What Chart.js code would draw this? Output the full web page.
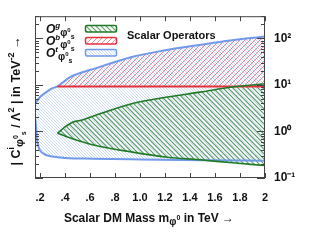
<!DOCTYPE html>
<html>
<head>
<meta charset="utf-8">
<script src="https://cdn.jsdelivr.net/npm/chart.js@4.4.0/dist/chart.umd.min.js"></script>
<style>
html,body{margin:0;padding:0;background:#fff}
canvas{display:block}
</style>
</head>
<body>
<canvas id="myChart" width="327" height="245"></canvas>
<script>
const xTicks = [0.2,0.4,0.6,0.8,1.0,1.2,1.4,1.6,1.8,2.0];
const xTickLabels = ['.2','.4','.6','.8','1.0','1.2','1.4','1.6','1.8','2'];
const yTicks = [0.1,1,10,100];
const yTickLabels = ['10\u207B\u00B9','10\u2070','10\u00B9','10\u00B2'];

// O^t (top) : blue band
const topUpMass = [0.16,0.20,0.25,0.30,0.34,0.44,0.65,0.92,1.19,1.46,1.72,2.0];
const topUpper  = [3.9,5.5,7.0,8.5,9.3,14.7,23,39,55,71,90,110];
const topLowMass = [0.16,0.168,0.176,0.19,0.20,0.24,0.30,0.40,0.62,1.0,1.5,2.0];
const topLower   = [2.1,1.3,0.66,0.45,0.39,0.32,0.29,0.27,0.26,0.25,0.24,0.235];

// O^b (bottom) : red band, flat lower edge
const botMass  = [0.34,2.0];
const botLower = [9.3,9.3];

// O^g (gluon) : green band
const gluUpMass = [0.34,0.40,0.46,0.52,0.68,0.94,1.22,1.48,1.74,2.0];
const gluUpper  = [0.92,1.25,1.58,1.72,2.4,4.0,5.5,7.0,9.0,10.6];
const gluLowMass = [0.34,0.46,0.62,0.94,1.22,1.48,1.74,2.0];
const gluLower   = [0.92,0.70,0.52,0.36,0.28,0.246,0.212,0.186];

const pts = (xs, ys) => xs.map((x,i) => ({x:x, y:ys[i]}));

const canvas = document.getElementById('myChart');
const ctx = canvas.getContext('2d');

function hatch(color, size, lw, dir){
    const c = document.createElement('canvas');
    c.width = size; c.height = size;
    const g = c.getContext('2d');
    g.strokeStyle = color; g.lineWidth = lw;
    g.beginPath();
    if(dir > 0){
        g.moveTo(0,size); g.lineTo(size,0);
        g.moveTo(-size/2,size/2); g.lineTo(size/2,-size/2);
        g.moveTo(size/2,size*1.5); g.lineTo(size*1.5,size/2);
    } else {
        g.moveTo(0,0); g.lineTo(size,size);
        g.moveTo(-size/2,size/2); g.lineTo(size/2,size*1.5);
        g.moveTo(size/2,-size/2); g.lineTo(size*1.5,size/2);
    }
    g.stroke();
    return ctx.createPattern(c,'repeat');
}

const blueCol = '#7099e8';
const redCol = '#e3303c';
const greenCol = '#1f7a26';
const blueFill = hatch('rgba(130,168,232,0.42)',3,1,-1);
const redFill = hatch('rgba(225,90,110,0.7)',5,1,1);
const greenFill = hatch('rgba(45,130,55,0.75)',5,1.2,-1);

const FONT = 'Liberation Sans, Arial, sans-serif';

function rich(c, parts, x, y, align){
    let w = 0;
    parts.forEach(p => { c.font = p[1]; w += c.measureText(p[0]).width; });
    let cx = align === 'center' ? x - w/2 : x;
    parts.forEach(p => {
        c.font = p[1];
        c.fillText(p[0], cx, y + p[2]);
        cx += c.measureText(p[0]).width;
    });
}

const decor = {
    id:'decor',
    afterDatasetsDraw(chart){
        const c = chart.ctx, a = chart.chartArea;
        const x = chart.scales.x, y = chart.scales.y;
        c.save();
        c.strokeStyle = '#444';
        c.lineWidth = 1;
        c.beginPath();
        xTicks.forEach(v => {
            const px = Math.round(x.getPixelForValue(v)) + 0.5;
            c.moveTo(px,a.bottom); c.lineTo(px,a.bottom-5);
            c.moveTo(px,a.top); c.lineTo(px,a.top+5);
        });
        for(let d=-1; d<=2; d++){
            for(let m=1; m<=9; m++){
                const v = m*Math.pow(10,d);
                if(v > y.max) break;
                const py = Math.round(y.getPixelForValue(v)) + 0.5;
                const len = m === 1 ? 8 : 4;
                c.moveTo(a.left,py); c.lineTo(a.left+len,py);
                c.moveTo(a.right,py); c.lineTo(a.right-len,py);
            }
        }
        c.stroke();
        c.strokeRect(a.left+0.5, a.top+0.5, a.right-a.left-1, a.bottom-a.top-1);
        c.restore();
    },
    afterDraw(chart){
        const c = chart.ctx;
        c.save();
        c.fillStyle = '#111';
        c.textBaseline = 'alphabetic';
        // x title
        rich(c, [
            ['Scalar DM Mass m','bold 12px '+FONT,0],
            ['\u03C6','bold 10px '+FONT,3],
            ['0','bold 7px '+FONT,-2],
            [' in TeV \u2192','bold 12px '+FONT,0]
        ], 149, 222, 'center');
        // y title
        c.save();
        c.translate(15,101);
        c.rotate(-Math.PI/2);
        rich(c, [
            ['| C','bold 12.5px '+FONT,0],
            ['i','bold 9px '+FONT,-6],
            ['\u03C6','bold 11px '+FONT,3],
            ['0','bold 7px '+FONT,-2],
            ['s','bold 7px '+FONT,6],
            [' / \u039B','bold 12.5px '+FONT,0],
            ['2','bold 9px '+FONT,-6],
            [' | in TeV','bold 12.5px '+FONT,0],
            ['-2','bold 9px '+FONT,-6],
            [' \u2192','bold 12.5px '+FONT,0]
        ], 0, 4.5, 'center');
        c.restore();
        // legend
        const rows = [['g',greenFill,greenCol,33],['b',redFill,redCol,45],['t',blueFill,blueCol,57]];
        rows.forEach(r => {
            c.fillStyle = '#111';
            rich(c, [
                ['O','italic bold 12px '+FONT,0],
                [r[0],'italic bold 8px '+FONT,-5],
                ['\u03C6','bold 10px '+FONT,3],
                ['0','bold 6px '+FONT,-1],
                ['s','bold 7px '+FONT,6]
            ], 46, r[3], 'left');
            c.beginPath();
            c.roundRect(85.5, r[3]-7.5, 31, 6.5, 1.5);
            c.fillStyle = '#fff';
            c.fill();
            c.fillStyle = r[1];
            c.fill();
            c.strokeStyle = r[2];
            c.lineWidth = 1.5;
            c.stroke();
        });
        c.fillStyle = '#111';
        c.font = 'bold 11px '+FONT;
        c.fillText('Scalar Operators', 127, 38.5);
        c.restore();
    }
};

const lineBase = {pointRadius:0, cubicInterpolationMode:'monotone'};

const conf = {
    type:'line',
    data:{
        datasets:[
            {...lineBase, label:'Og upper', data:pts(gluUpMass,gluUpper), borderColor:greenCol, borderWidth:1.6, fill:false},
            {...lineBase, label:'Og lower', data:pts(gluLowMass,gluLower), borderColor:greenCol, borderWidth:1.6, fill:0, backgroundColor:greenFill},
            {...lineBase, label:'Ob lower', data:pts(botMass,botLower), borderColor:redCol, borderWidth:2, fill:'+1', backgroundColor:redFill},
            {...lineBase, label:'Ob upper', data:pts(topUpMass.filter(m => m >= botMass[0]), topUpper.filter((v,i) => topUpMass[i] >= botMass[0])), borderColor:'rgba(0,0,0,0)', borderWidth:1, fill:false},
            {...lineBase, label:'Ot upper', data:pts(topUpMass,topUpper), borderColor:blueCol, borderWidth:2, fill:false},
            {...lineBase, label:'Ot lower', data:pts(topLowMass,topLower), borderColor:blueCol, borderWidth:2, fill:'-1', backgroundColor:blueFill}
        ]
    },
    options:{
        responsive:false,
        animation:false,
        layout:{padding:{left:35, top:16, right:0, bottom:0}},
        plugins:{
            legend:{display:false},
            tooltip:{enabled:false},
            filler:{drawTime:'beforeDatasetsDraw'}
        },
        scales:{
            x:{
                type:'linear',
                min:0.16,
                max:2.0,
                grid:{display:false, drawTicks:false},
                border:{display:false},
                afterBuildTicks:s => { s.ticks = xTicks.map(v => ({value:v})); },
                afterFit:s => { s.height = 67; },
                ticks:{
                    autoSkip:false,
                    maxRotation:0,
                    padding:13,
                    color:'#111',
                    font:{family:FONT, size:11, weight:'bold'},
                    callback:(v,i) => xTickLabels[i]
                }
            },
            y:{
                type:'logarithmic',
                position:'right',
                min:0.1,
                max:300,
                grid:{display:false, drawTicks:false},
                border:{display:false},
                afterBuildTicks:s => { s.ticks = yTicks.map(v => ({value:v})); },
                afterFit:s => { s.width = 62; },
                ticks:{
                    autoSkip:false,
                    padding:9,
                    color:'#111',
                    font:{family:FONT, size:12, weight:'bold'},
                    callback:(v,i) => yTickLabels[i]
                }
            }
        }
    },
    plugins:[decor]
};

new Chart(ctx, conf);
</script>
</body>
</html>
